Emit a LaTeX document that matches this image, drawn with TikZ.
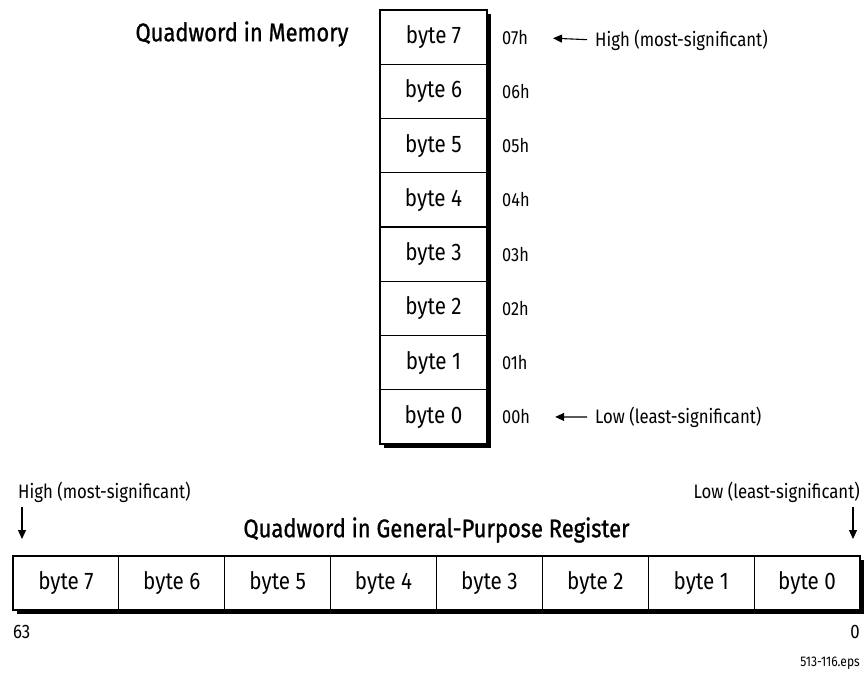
\documentclass[tikz,border=0pt]{standalone}
\usepackage{fontspec}
\setmainfont[FakeStretch=0.86]{Fira Sans}
\newfontfamily\titlefont[FakeStretch=0.86,FakeBold=1]{Fira Sans}
\usetikzlibrary{arrows.meta,backgrounds,calc}
\begin{document}
\begin{tikzpicture}[x=1pt,y=-1pt,
  cellbox/.style={draw, fill=white, line width=1.1pt, minimum height=54.25pt,
    inner sep=0pt, outer sep=0pt, font=\fontsize{24}{26}\selectfont},
  memcell/.style={cellbox, minimum width=107pt},
  regcell/.style={cellbox, minimum width=105.875pt, minimum height=54pt},
  addr/.style={anchor=west, inner sep=0pt, font=\fontsize{19}{21}\selectfont},
  lab/.style={inner sep=0pt, font=\fontsize{19.5}{22}\selectfont},
  ttl/.style={inner sep=0pt, font=\titlefont\fontsize{25.5}{28}\selectfont},
  tiny/.style={inner sep=0pt, font=\fontsize{14}{16}\selectfont},
  arr/.style={line width=1.1pt, -{Triangle[length=9pt,width=8pt]}},
  shadowfill/.style={fill=black}
]
\useasboundingbox (0,0) rectangle (864,673);

% memory column
\foreach \k in {0,...,7}{
  \pgfmathtruncatemacro{\b}{7-\k}
  \pgfmathsetmacro{\yc}{10+54.25*(\k+0.5)}
  \node[memcell] (m\b) at (433.5,\yc) {byte \b};
  \node[addr] (a\b) at (502,\yc) {0\b h};
}
% register row
\foreach \j in {0,...,7}{
  \pgfmathtruncatemacro{\b}{7-\j}
  \pgfmathsetmacro{\xc}{13+105.875*(\j+0.5)}
  \node[regcell] (r\b) at (\xc,583) {byte \b};
}
\begin{scope}[on background layer]
  \fill[shadowfill] ($(m7.north west)+(4,4)$) rectangle ($(m0.south east)+(4,4)$);
  \fill[shadowfill] ($(r7.north west)+(4,4)$) rectangle ($(r0.south east)+(4,4)$);
\end{scope}

% titles
\node[ttl] (mt) at (242,34) {Quadword in Memory};
\node[ttl] (rt) at (436.5,530) {Quadword in General-Purpose Register};

% memory significance
\node[lab, anchor=west] (mhi) at (595,40) {High (most-significant)};
\node[lab, anchor=west] (mlo) at (595,417) {Low (least-significant)};
\draw[arr, shorten <=8pt, shorten >=25pt] (mhi.west) -- (a7.east);
\draw[arr, shorten <=8pt, shorten >=25pt] (mlo.west) -- (a0.east);

% register significance
\node[lab, anchor=west] (rhi) at (18,492) {High (most-significant)};
\node[lab, anchor=east] (rlo) at (860,492) {Low (least-significant)};
\coordinate (hs) at (22,507);
\coordinate (he) at (22,539);
\coordinate (ls) at (853,507);
\coordinate (le) at (853,539);
\draw[arr] (hs) -- (he);
\draw[arr] (ls) -- (le);

% bit numbers
\node[lab, anchor=west] (b63) at (13,632) {63};
\node[lab, anchor=east] (b0) at (860,632) {0};
\node[tiny, anchor=east] (eps) at (860,663) {513-116.eps};
\end{tikzpicture}
\end{document}
